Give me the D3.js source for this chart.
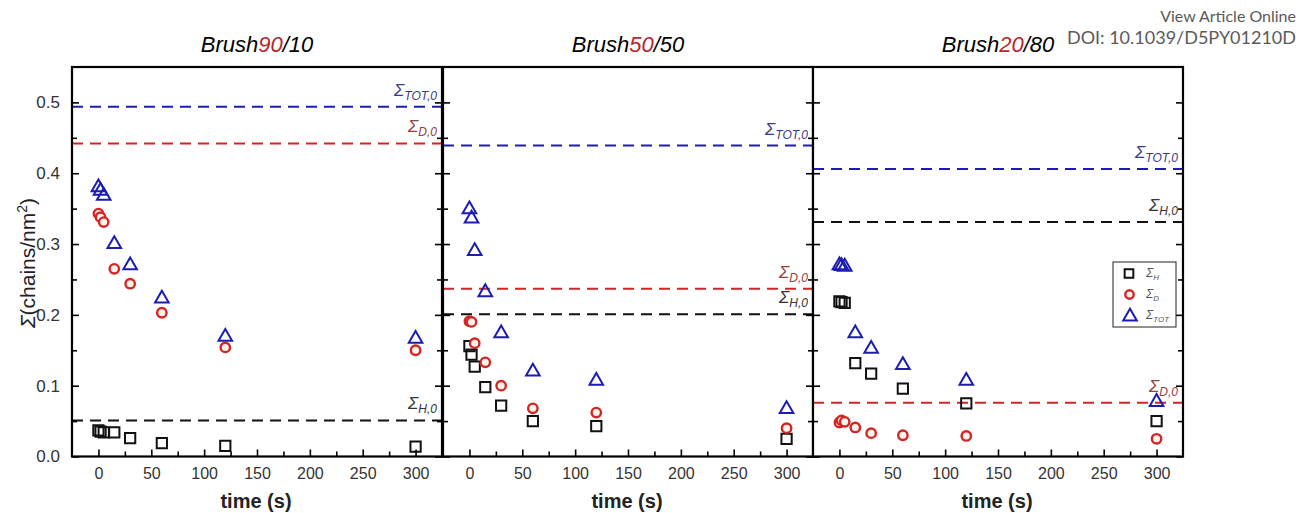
<!DOCTYPE html>
<html>
<head>
<meta charset="utf-8">
<script src="https://cdn.jsdelivr.net/npm/d3@7"></script>
<style>
  body { margin: 0; background: #fff; }
  svg { display: block; font-family: "Liberation Sans", Arial, sans-serif; }
</style>
</head>
<body>
<svg id="svg" width="1299" height="513"></svg>
<script>
// ---- data ----
var times = [0, 2, 5, 15, 30, 60, 120, 300];
var brushNames = ["90", "50", "20"];
var brushRest = ["/10", "/50", "/80"];

var sigmaH_90 = [0.037, 0.035, 0.034, 0.034, 0.026, 0.019, 0.015, 0.014];
var sigmaD_90 = [0.343, 0.338, 0.331, 0.265, 0.244, 0.203, 0.154, 0.150];
var sigmaTot_90 = [0.380, 0.375, 0.368, 0.300, 0.270, 0.223, 0.169, 0.166];

var sigmaH_50 = [0.156, 0.144, 0.127, 0.098, 0.072, 0.050, 0.043, 0.025];
var sigmaD_50 = [0.191, 0.190, 0.160, 0.133, 0.100, 0.068, 0.062, 0.040];
var sigmaTot_50 = [0.349, 0.336, 0.290, 0.232, 0.174, 0.120, 0.107, 0.067];

var sigmaH_20 = [0.219, 0.218, 0.217, 0.132, 0.117, 0.096, 0.075, 0.050];
var sigmaD_20 = [0.048, 0.051, 0.049, 0.041, 0.033, 0.030, 0.029, 0.025];
var sigmaTot_20 = [0.270, 0.269, 0.268, 0.174, 0.152, 0.129, 0.107, 0.077];

// initial grafting densities (dashed reference lines)
var sigmaTot0 = [0.494, 0.439, 0.406];
var sigmaD0 = [0.442, 0.237, 0.076];
var sigmaH0 = [0.051, 0.201, 0.331];

var xTicks = [0, 50, 100, 150, 200, 250, 300];
var xMinor = [25, 75, 125, 175, 225, 275];
var yTicks = [0, 0.1, 0.2, 0.3, 0.4, 0.5];
var yMinor = [0.05, 0.15, 0.25, 0.35, 0.45];

var series = [
  { H: sigmaH_90, D: sigmaD_90, T: sigmaTot_90 },
  { H: sigmaH_50, D: sigmaD_50, T: sigmaTot_50 },
  { H: sigmaH_20, D: sigmaD_20, T: sigmaTot_20 }
];

// ---- layout ----
var svg = d3.select('svg');
var lefts = [72, 443, 813];
var pw = 370, plotTop = 67, plotBottom = 456.5;

var colH = '#111', colD = '#d42525', colT = '#1c1cb4';
var labT = '#3a3a8c', labD = '#93403f', labH = '#333';

var y = d3.scaleLinear().domain([0, 0.55]).range([plotBottom, plotTop]);

var sqr = d3.symbol().type(d3.symbolSquare).size(105);
var tri = d3.symbol().type(d3.symbolTriangle).size(80);

function refLabel(g, x, yy, color, sub) {
  var t = g.append('text')
    .attr('x', x).attr('y', yy)
    .attr('text-anchor', 'end')
    .style('font-style', 'italic')
    .style('font-size', '17px')
    .attr('fill', color);
  t.append('tspan').text('Σ');
  t.append('tspan').attr('dy', 4).style('font-size', '12px').text(sub);
}

lefts.forEach(function(left, i) {
  var x = d3.scaleLinear().domain([-25, 325]).range([left, left + pw]);
  var g = svg.append('g');
  var s = series[i];

  g.append('rect')
    .attr('x', left).attr('y', plotTop)
    .attr('width', pw).attr('height', plotBottom - plotTop)
    .attr('fill', '#fff');

  // dashed reference lines
  var refs = [
    { v: sigmaTot0[i], c: colT, lc: labT, sub: 'TOT,0' },
    { v: sigmaD0[i], c: colD, lc: labD, sub: 'D,0' },
    { v: sigmaH0[i], c: colH, lc: labH, sub: 'H,0' }
  ];
  refs.forEach(function(r) {
    g.append('line')
      .attr('x1', left).attr('x2', left + pw)
      .attr('y1', y(r.v)).attr('y2', y(r.v))
      .attr('stroke', r.c).attr('stroke-width', 2)
      .attr('stroke-dasharray', '11,7');
    refLabel(g, left + pw - 5, y(r.v) - 11, r.lc, r.sub);
  });

  // markers
  g.selectAll('.h').data(times).enter().append('path')
    .attr('d', sqr)
    .attr('transform', function(d, k) { return 'translate(' + x(d) + ',' + y(s.H[k]) + ')'; })
    .attr('fill', 'none').attr('stroke', colH).attr('stroke-width', 2);

  g.selectAll('.d').data(times).enter().append('circle')
    .attr('cx', function(d) { return x(d); })
    .attr('cy', function(d, k) { return y(s.D[k]); })
    .attr('r', 4.7)
    .attr('fill', '#fff3ec').attr('stroke', colD).attr('stroke-width', 2.4);

  g.selectAll('.t').data(times).enter().append('path')
    .attr('d', tri)
    .attr('transform', function(d, k) { return 'translate(' + x(d) + ',' + y(s.T[k]) + ')'; })
    .attr('fill', 'none').attr('stroke', colT).attr('stroke-width', 2);

  // axes (ticks inward)
  var xa = g.append('g').attr('transform', 'translate(0,' + plotBottom + ')')
    .call(d3.axisBottom(x).tickValues(xTicks).tickSize(-7).tickPadding(11));
  xa.selectAll('text').style('font-size', '16px').attr('fill', '#333');
  g.append('g').attr('transform', 'translate(0,' + plotBottom + ')')
    .call(d3.axisBottom(x).tickValues(xMinor).tickSize(-5).tickFormat(''));

  var yl = g.append('g').attr('transform', 'translate(' + left + ',0)')
    .call(d3.axisLeft(y).tickValues(yTicks).tickSize(-7).tickPadding(12)
      .tickFormat(i === 0 ? d3.format('.1f') : ''));
  yl.selectAll('text').style('font-size', '17px').attr('fill', '#333');
  g.append('g').attr('transform', 'translate(' + left + ',0)')
    .call(d3.axisLeft(y).tickValues(yMinor).tickSize(-5).tickFormat(''));

  g.append('g').attr('transform', 'translate(' + (left + pw) + ',0)')
    .call(d3.axisLeft(y).tickValues(yTicks).tickSize(7).tickFormat(''));
  g.append('g').attr('transform', 'translate(' + (left + pw) + ',0)')
    .call(d3.axisLeft(y).tickValues(yMinor).tickSize(5).tickFormat(''));

  g.selectAll('.domain').remove();
  g.selectAll('.tick line').attr('stroke', '#000').attr('stroke-width', 1.6);

  g.append('rect')
    .attr('x', left).attr('y', plotTop)
    .attr('width', pw).attr('height', plotBottom - plotTop)
    .attr('fill', 'none').attr('stroke', '#000').attr('stroke-width', 2.2);

  // title
  var title = g.append('text')
    .attr('x', left + pw / 2).attr('y', 52)
    .attr('text-anchor', 'middle')
    .style('font-style', 'italic').style('font-size', '22px');
  title.append('tspan').text('Brush');
  title.append('tspan').attr('fill', '#b8262b').text(brushNames[i]);
  title.append('tspan').text(brushRest[i]);

  // x label
  g.append('text')
    .attr('x', left + pw / 2 - 1).attr('y', 508)
    .attr('text-anchor', 'middle')
    .style('font-size', '20px').style('font-weight', 'bold')
    .attr('fill', '#222')
    .text('time (s)');
});

// y axis title
var yt = svg.append('text')
  .attr('transform', 'translate(35,263) rotate(-90)')
  .attr('text-anchor', 'middle')
  .style('font-size', '21px').attr('fill', '#222');
yt.append('tspan').style('font-style', 'italic').text('Σ');
yt.append('tspan').text('(chains/nm');
yt.append('tspan').attr('dy', -8).style('font-size', '14px').text('2');
yt.append('tspan').attr('dy', 8).text(')');

// legend in the last panel
var legendItems = [
  { sub: 'H', kind: 'sq' },
  { sub: 'D', kind: 'ci' },
  { sub: 'TOT', kind: 'tr' }
];
var lg = svg.append('g');
lg.append('rect').attr('x', 1113).attr('y', 262).attr('width', 63).attr('height', 65)
  .attr('fill', '#fff').attr('stroke', '#222').attr('stroke-width', 1);
legendItems.forEach(function(it, k) {
  var cy = 273.5 + k * 21;
  if (it.kind === 'sq') {
    lg.append('path').attr('d', d3.symbol().type(d3.symbolSquare).size(75))
      .attr('transform', 'translate(1129,' + cy + ')')
      .attr('fill', 'none').attr('stroke', colH).attr('stroke-width', 2);
  } else if (it.kind === 'ci') {
    lg.append('circle').attr('cx', 1129.5).attr('cy', cy).attr('r', 4.2)
      .attr('fill', '#fff3ec').attr('stroke', colD).attr('stroke-width', 2.4);
  } else {
    lg.append('path').attr('d', tri)
      .attr('transform', 'translate(1130,' + (cy + 1) + ')')
      .attr('fill', 'none').attr('stroke', colT).attr('stroke-width', 2);
  }
  var t = lg.append('text').attr('x', 1146).attr('y', cy + 3)
    .style('font-style', 'italic').style('font-size', '12px').attr('fill', '#555');
  t.append('tspan').text('Σ');
  t.append('tspan').attr('dy', 3).style('font-size', '8px').text(it.sub);
});

// page header text
svg.append('text').attr('x', 1296).attr('y', 22).attr('text-anchor', 'end')
  .style('font-family', 'Lato, "Open Sans", sans-serif').style('font-weight', 400)
  .style('font-size', '16px').attr('fill', '#5a5a5a').text('View Article Online');
svg.append('text').attr('x', 1296).attr('y', 44).attr('text-anchor', 'end')
  .style('font-family', 'Lato, "Open Sans", sans-serif').style('font-weight', 400)
  .style('font-size', '18px').attr('fill', '#5a5a5a').text('DOI: 10.1039/D5PY01210D');
</script>
</body>
</html>
